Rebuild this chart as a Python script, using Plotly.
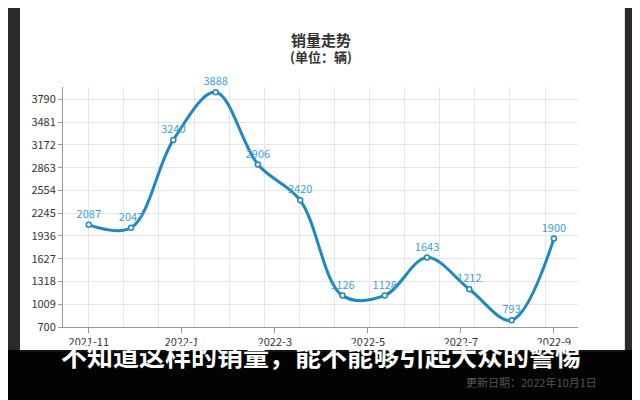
import plotly.graph_objects as go

months = list(range(12))
sales = [2087, 2047, 3240, 3888, 2906, 2420, 1126, 1128, 1643, 1212, 793, 1900]
tick_pos = [0, 2.2, 4.4, 6.6, 8.8, 11]
tick_text = ['2021-11', '2022-1', '2022-3', '2022-5', '2022-7', '2022-9']
y_ticks = [700, 1009, 1318, 1627, 1936, 2245, 2554, 2863, 3172, 3481, 3790]

blue = '#1e88c2'
fig = go.Figure()
fig.add_trace(go.Scatter(
    x=months, y=sales, mode='lines+markers+text',
    line=dict(color=blue, width=3, shape='spline', smoothing=1.0),
    marker=dict(color='white', size=5, line=dict(color=blue, width=1.5)),
    text=[str(v) for v in sales], textposition='top center',
    textfont=dict(color='#3d9fd8', size=11), cliponaxis=False, showlegend=False,
))
# invisible trace on overlay axis for vertical grid
fig.add_trace(go.Scatter(x=[0], y=[700], xaxis='x2', mode='markers',
                         marker=dict(opacity=0), showlegend=False, hoverinfo='skip'))

fig.update_layout(
    width=632, height=392,
    margin=dict(l=55, r=62, t=79, b=73, autoexpand=False),
    paper_bgcolor='#2a2a2a', plot_bgcolor='white',
    font=dict(family='Noto Sans CJK SC', color='#333'),
    xaxis=dict(range=[-0.61, 11.57], tickvals=tick_pos, ticktext=tick_text, automargin=False,
               showgrid=False, zeroline=False, showline=True, linecolor='#999',
               ticks='outside', ticklen=5, tickcolor='#999', tickfont=dict(size=11, color='#333')),
    xaxis2=dict(range=[-0.61, 11.57], overlaying='x', tick0=0, dtick=0.83, automargin=False,
                showticklabels=False, showgrid=True, gridcolor='#e6e6e6', zeroline=False),
    yaxis=dict(range=[700, 3958], tickvals=y_ticks, showgrid=True, gridcolor='#e6e6e6',
               automargin=False, zeroline=False, showline=True, linecolor='#999', ticks='outside',
               ticklen=4, tickcolor='#999', tickfont=dict(size=11, color='#333')),
    shapes=[
        dict(type='rect', xref='paper', yref='paper', x0=-0.0835, x1=1.091, y0=-0.104, y1=1.37,
             fillcolor='white', line=dict(width=0), layer='below'),
        dict(type='rect', xref='paper', yref='paper', x0=-0.13, x1=1.13, y0=-0.32, y1=-0.096,
             fillcolor='black', opacity=0.92, line=dict(width=0), layer='above'),
    ],
    annotations=[
        dict(text='<b>销量走势</b>', xref='paper', yref='paper', x=0.5, y=1.25,
             showarrow=False, font=dict(size=15, color='#333')),
        dict(text='<b>(单位：辆)</b>', xref='paper', yref='paper', x=0.5, y=1.175,
             showarrow=False, font=dict(size=13, color='#333')),
        dict(text='<b>不知道这样的销量，能不能够引起大众的警惕</b>', xref='paper', yref='paper',
             x=0.5, y=-0.2, showarrow=False, font=dict(size=26, color='white')),
        dict(text='更新日期：2022年10月1日', xref='paper', yref='paper', x=1.04, y=-0.27,
             xanchor='right', showarrow=False, font=dict(size=11, color='#555')),
    ],
)
fig.write_html('out.html')
